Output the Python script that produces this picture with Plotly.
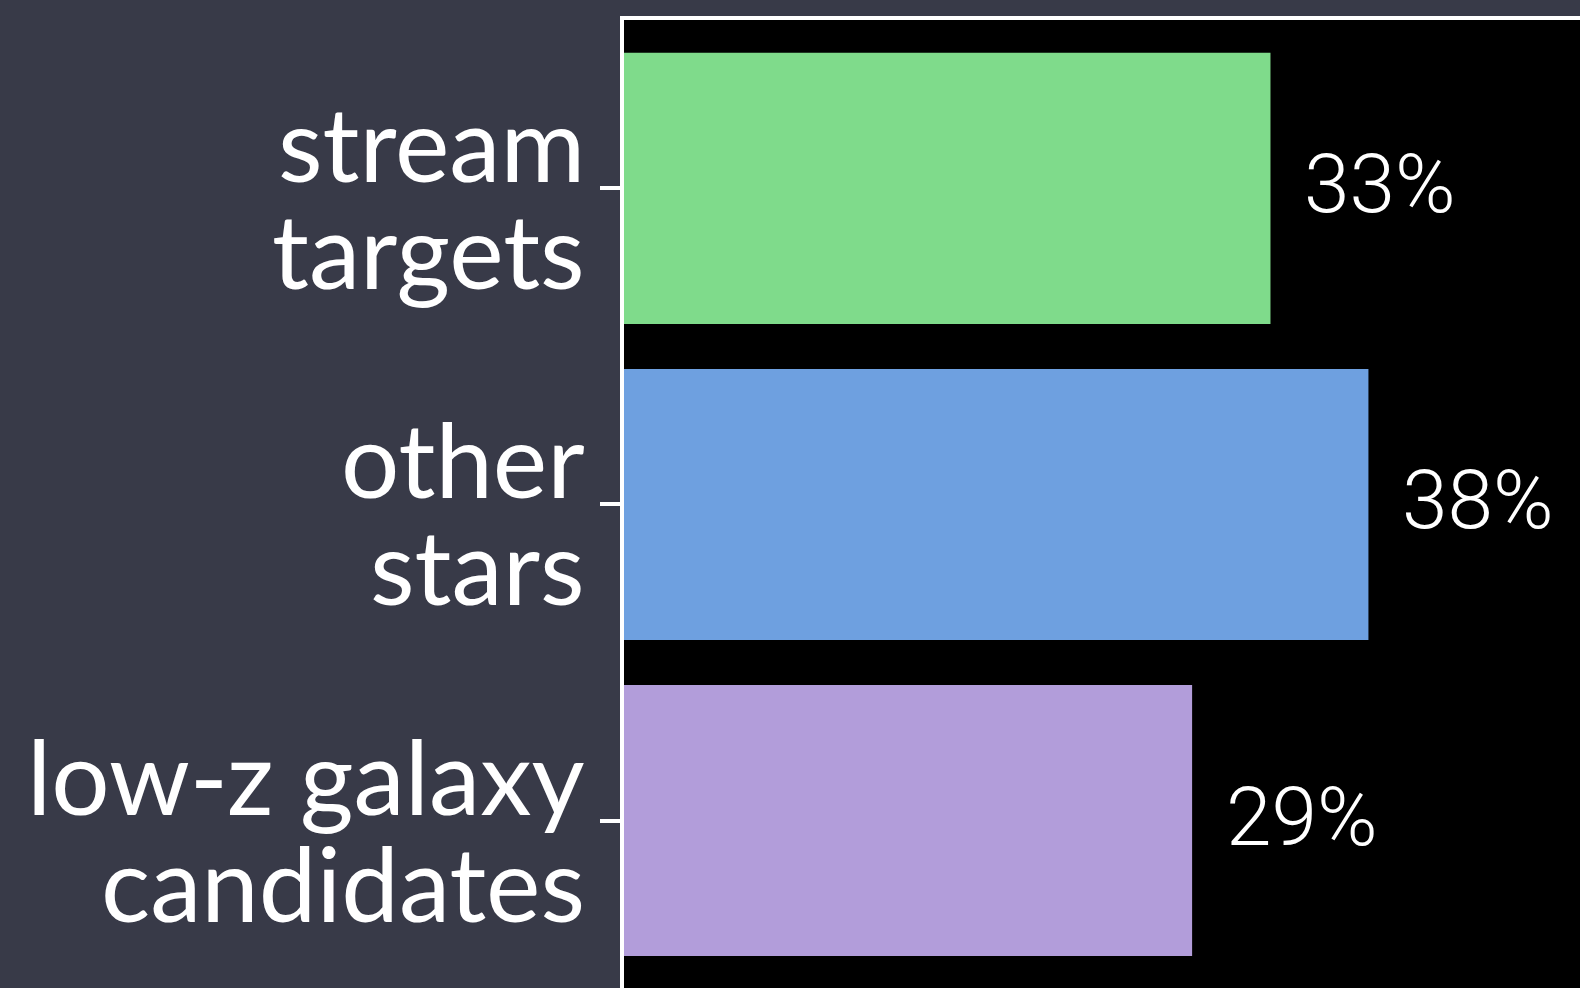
import plotly.graph_objects as go

# Share of targets per class (percent)
categories = ["stream targets", "other stars", "low-z galaxy candidates"]
label_lines = [["stream", "targets"], ["other", "stars"], ["low-z galaxy", "candidates"]]
shares = [33, 38, 29]
bar_colors = ["#7fdb8b", "#6ea0e0", "#b29dda"]

PAPER_BG = "#383a48"
PLOT_BG = "#000000"
WHITE = "#ffffff"

fig = go.Figure(
    go.Bar(
        y=categories,
        x=shares,
        orientation="h",
        marker=dict(color=bar_colors, line=dict(width=0)),
        width=0.858,
        hoverinfo="skip",
    )
)

annotations = []
# value labels to the right of each bar
for cat, val in zip(categories, shares):
    annotations.append(dict(
        x=val, y=cat, xref="x", yref="y",
        text=f"{val}%", showarrow=False,
        xanchor="left", yanchor="middle", xshift=32, yshift=4,
        font=dict(family="Roboto", size=82, color=WHITE, weight=300),
    ))

# two-line category labels at the left of the axis
line_shifts = [46, -61]
for cat, lines in zip(categories, label_lines):
    for line, dy in zip(lines, line_shifts):
        annotations.append(dict(
            x=0, y=cat, xref="paper", yref="y",
            text=line, showarrow=False,
            xanchor="right", yanchor="middle", xshift=-37,
            yshift=dy,
            font=dict(family="Lato", size=103, color=WHITE),
        ))

fig.update_layout(
    width=1580, height=988,
    margin=dict(l=624, r=0, t=20, b=0, pad=0),
    paper_bgcolor=PAPER_BG,
    plot_bgcolor=PLOT_BG,
    showlegend=False,
    annotations=annotations,
    xaxis=dict(
        range=[0, 48.8], side="top",
        showline=True, linecolor=WHITE, linewidth=4,
        showgrid=False, zeroline=False,
        showticklabels=False, ticks="",
        fixedrange=True,
    ),
    yaxis=dict(
        range=[2.530, -0.533],
        showline=True, linecolor=WHITE, linewidth=4,
        showgrid=False, zeroline=False,
        ticks="outside", ticklen=20, tickwidth=4, tickcolor=WHITE,
        showticklabels=False,
        fixedrange=True,
    ),
)

fig.write_html("out.html", config={"displayModeBar": False})
